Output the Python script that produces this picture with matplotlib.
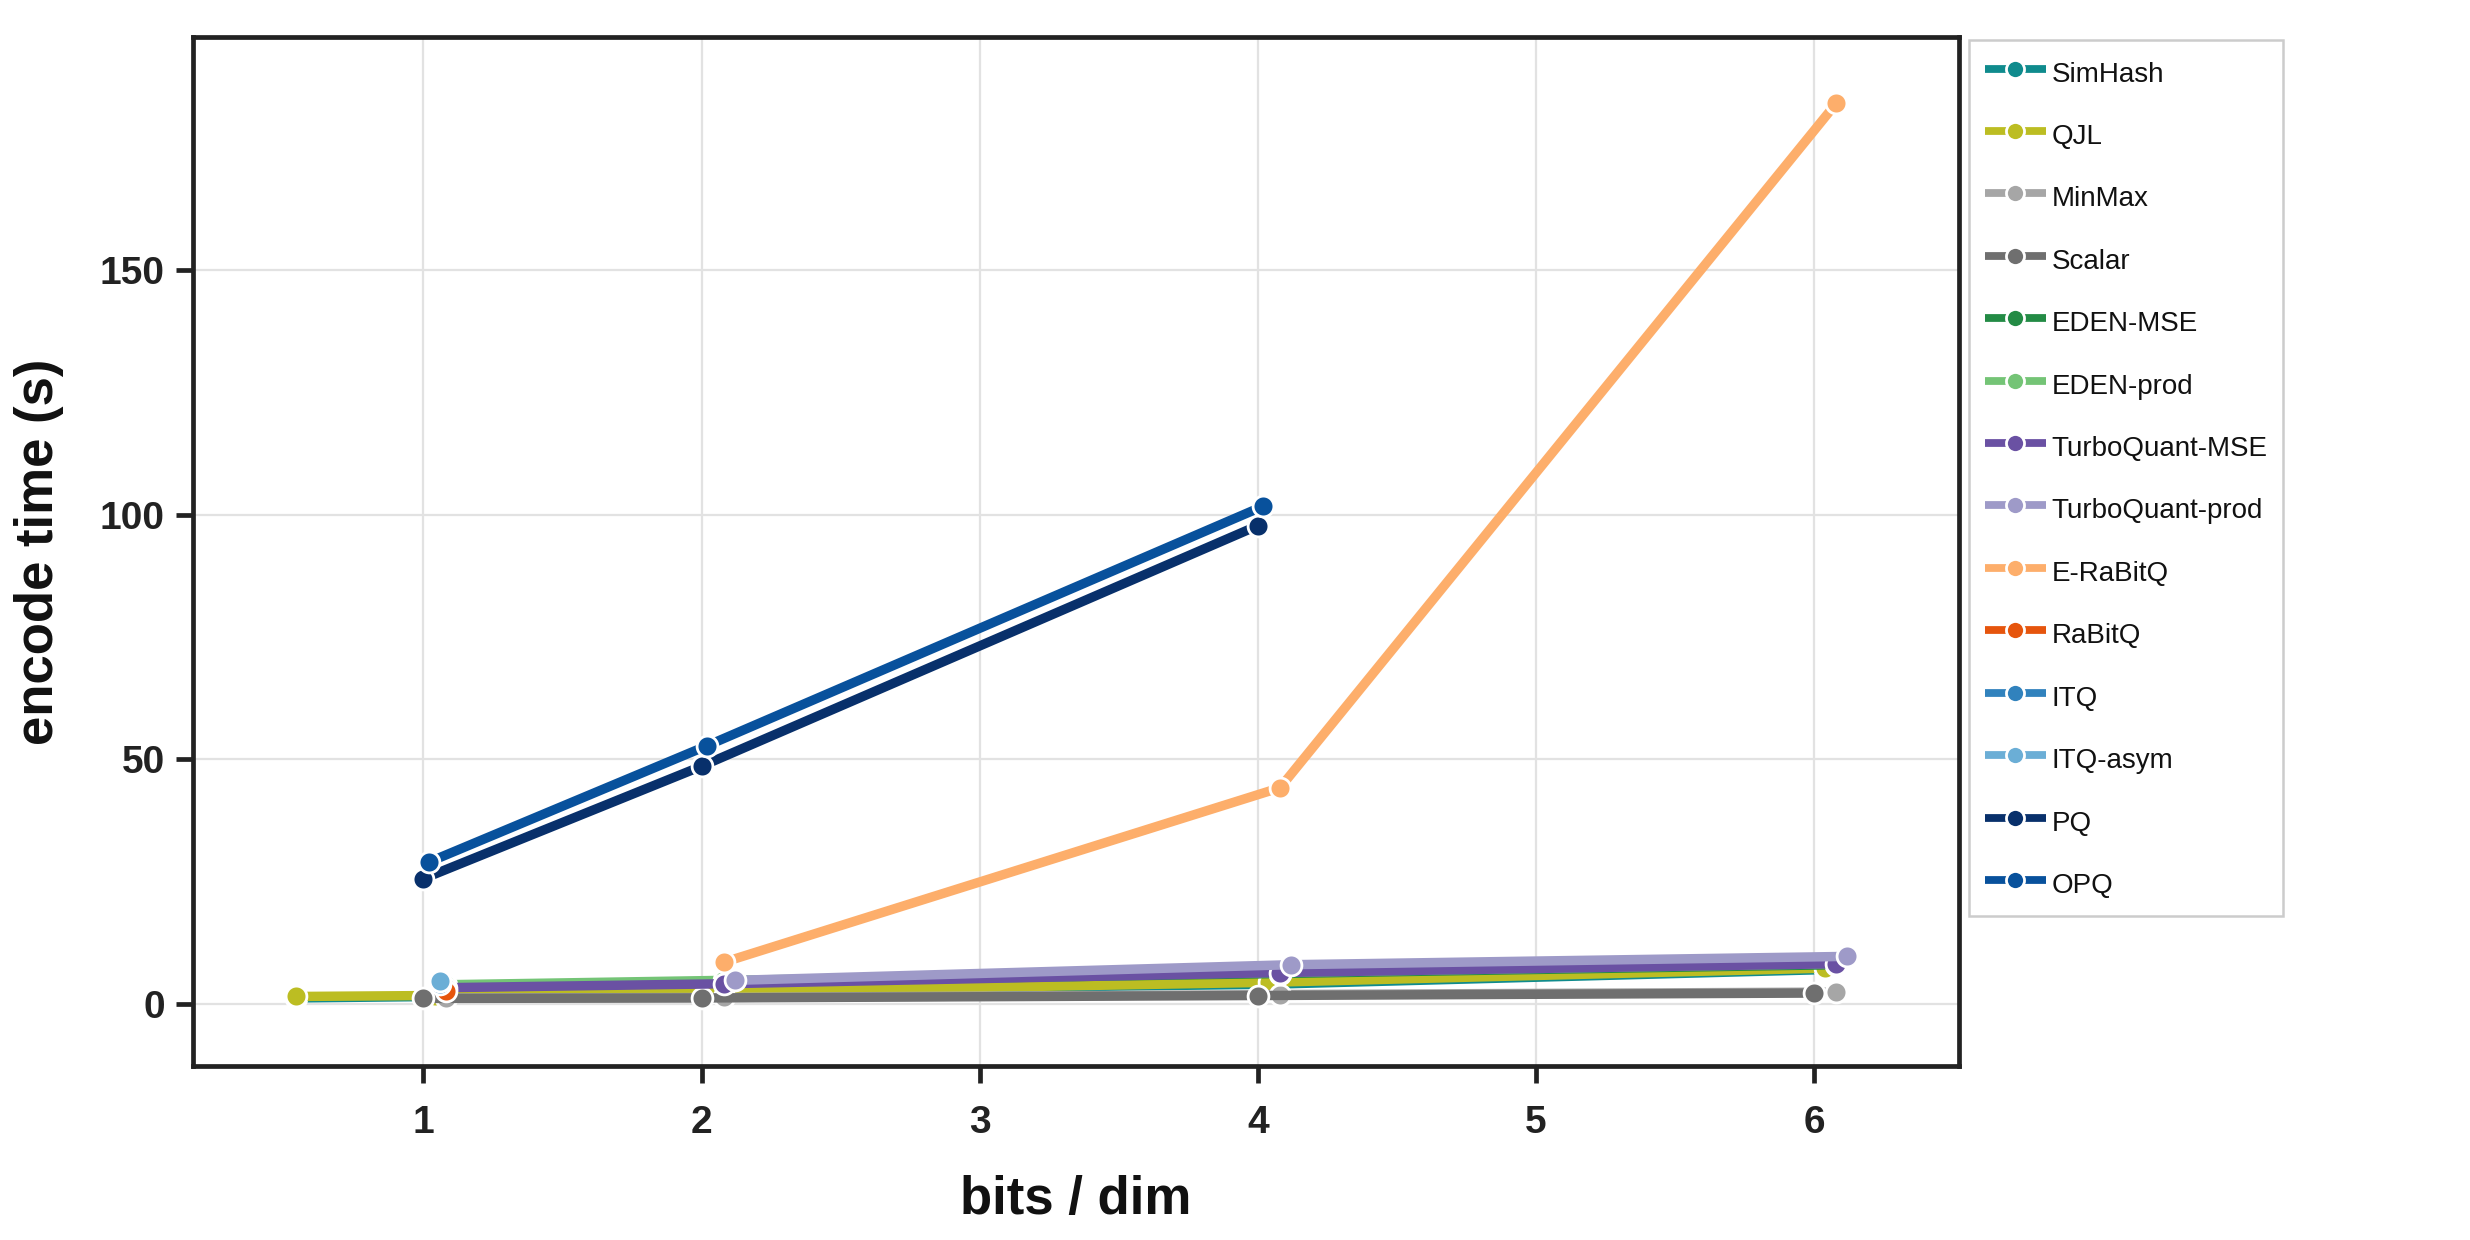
import matplotlib
matplotlib.use("Agg")
import matplotlib.pyplot as plt

plt.rcParams["font.family"] = ["Liberation Sans", "DejaVu Sans"]

# ── data: encode time (s) per method vs bits/dim ──
methods = ["SimHash", "QJL", "MinMax", "Scalar", "EDEN-MSE", "EDEN-prod",
           "TurboQuant-MSE", "TurboQuant-prod", "E-RaBitQ", "RaBitQ",
           "ITQ", "ITQ-asym", "PQ", "OPQ"]

simhash_bits = [0.5, 1, 2, 4, 6]
simhash_time = [1.2, 1.5, 2.6, 4.0, 7.0]
qjl_bits = [0.5, 1, 2, 4, 6]
qjl_time = [1.5, 1.7, 2.4, 4.4, 7.3]
minmax_bits = [1, 2, 4, 6]
minmax_time = [1.2, 1.3, 1.9, 2.4]
scalar_bits = [1, 2, 4, 6]
scalar_time = [1.1, 1.2, 1.7, 2.2]
eden_mse_bits = [1, 2, 4, 6]
eden_mse_time = [3.6, 4.5, 6.2, 8.0]
eden_prod_bits = [1, 2, 4, 6]
eden_prod_time = [3.9, 4.8, 6.4, 8.2]
tq_mse_bits = [1, 2, 4, 6]
tq_mse_time = [3.3, 4.1, 6.4, 8.2]
tq_prod_bits = [2, 4, 6]
tq_prod_time = [4.8, 8.0, 9.7]
erabitq_bits = [2, 4, 6]
erabitq_time = [8.5, 44.2, 184.2]
rabitq_bits = [1]
rabitq_time = [2.7]
itq_bits = [1]
itq_time = [4.0]
itq_asym_bits = [1]
itq_asym_time = [4.6]
pq_bits = [1, 2, 4]
pq_time = [25.6, 48.6, 97.8]
opq_bits = [1, 2, 4]
opq_time = [29.0, 52.8, 101.8]

bits = [simhash_bits, qjl_bits, minmax_bits, scalar_bits, eden_mse_bits,
        eden_prod_bits, tq_mse_bits, tq_prod_bits, erabitq_bits, rabitq_bits,
        itq_bits, itq_asym_bits, pq_bits, opq_bits]
times = [simhash_time, qjl_time, minmax_time, scalar_time, eden_mse_time,
         eden_prod_time, tq_mse_time, tq_prod_time, erabitq_time, rabitq_time,
         itq_time, itq_asym_time, pq_time, opq_time]

# small horizontal dodge so overlapping markers stay visible
dodge = [0.04, 0.04, 0.08, 0.0, 0.08, 0.08, 0.08, 0.12, 0.08, 0.08,
         0.06, 0.06, 0.0, 0.02]

colors = ["#0f8b8d", "#bcbd22", "#a6a6a6", "#6f6f6f", "#238b45", "#74c476",
          "#6a51a3", "#9e9ac8", "#fdae6b", "#e6550d", "#3182bd", "#6baed6",
          "#08306b", "#08519c"]

ink = "#222222"

# ── plot ──
fig = plt.figure(figsize=(12.35, 6.2), dpi=200)
ax = fig.add_axes([0.078, 0.140, 0.715, 0.830])

for name, b, t, d, c in zip(methods, bits, times, dodge, colors):
    ax.plot([v + d for v in b], t, color=c, lw=3.4, marker="o",
            markersize=7.5, markeredgecolor="white", markeredgewidth=1.0,
            solid_capstyle="butt", label=name)

ax.set_xlim(0.17, 6.52)
ax.set_ylim(-12.8, 197.7)
ax.set_xticks([1, 2, 3, 4, 5, 6])
ax.set_yticks([0, 50, 100, 150])
ax.grid(True, color="#e2e2e2", lw=0.8)
ax.set_axisbelow(True)

for s in ax.spines.values():
    s.set_color(ink)
    s.set_linewidth(1.7)
ax.tick_params(axis="both", length=6, width=1.7, color=ink,
               labelsize=14, labelcolor=ink)
ax.tick_params(axis="x", pad=8)
ax.tick_params(axis="y", pad=4)
for lab in ax.get_xticklabels() + ax.get_yticklabels():
    lab.set_fontweight("bold")

ax.set_xlabel("bits / dim", fontsize=19, fontweight="bold", color="#111111", labelpad=12)
ax.set_ylabel("encode time (s)", fontsize=19, fontweight="bold", color="#111111", labelpad=13)

leg = ax.legend(loc="upper left", bbox_to_anchor=(1.006, 0.997), borderaxespad=0,
                fontsize=10, frameon=True, fancybox=False, framealpha=1,
                edgecolor="#cccccc", handlelength=2.2, handleheight=1.48,
                handletextpad=0.22, labelspacing=1.04, borderpad=0.55)
leg.get_frame().set_linewidth(0.9)
for h in leg.get_lines():
    h.set_linewidth(2.8)
    h.set_markersize(6.5)
for txt in leg.get_texts():
    txt.set_color("#111111")

fig.savefig("out.png", dpi=200)
